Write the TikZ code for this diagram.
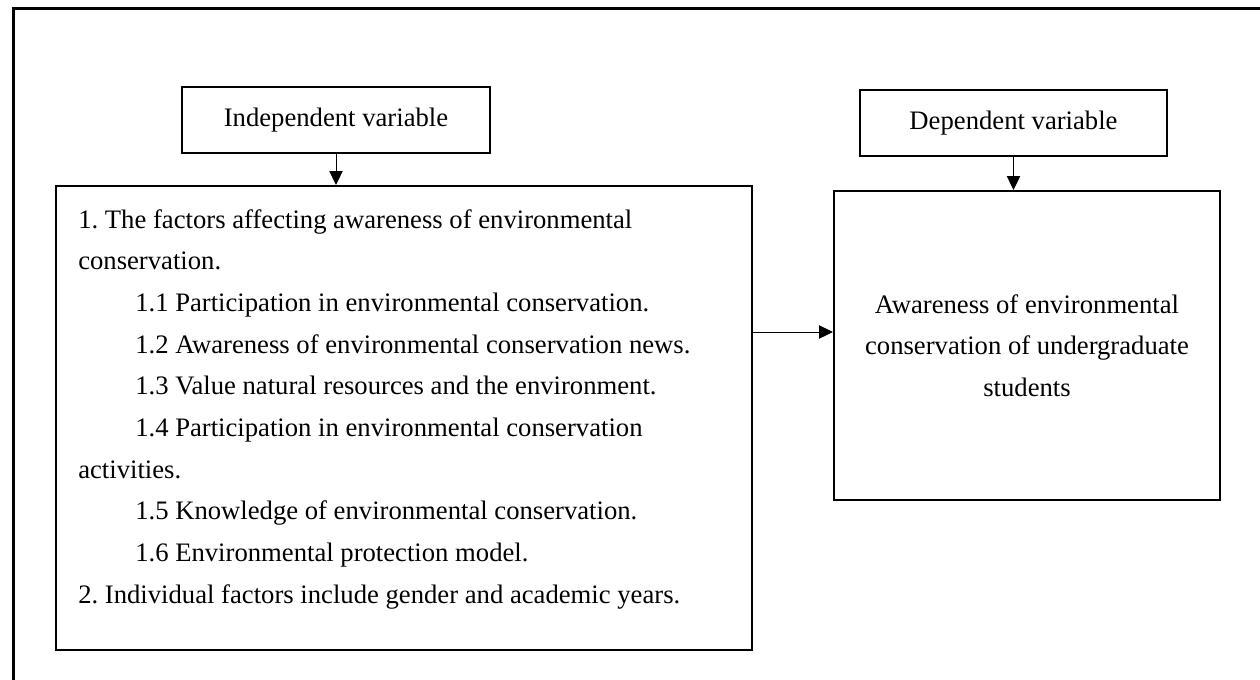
\documentclass[tikz,border=0pt]{standalone}
\usepackage{fontspec}
\setmainfont{Liberation Serif}
\usetikzlibrary{arrows.meta}
\frenchspacing

\begin{document}
\begin{tikzpicture}[
  varbox/.style={draw,line width=1.5pt,inner sep=0pt,align=center},
  item/.style={inner sep=0pt,anchor=base west},
  link/.style={-{Triangle[length=10.5pt,width=10pt]},line width=0.75pt},
  font=\fontsize{20}{31.3}\selectfont,
  x=0.75pt,y=-0.75pt]

  \useasboundingbox (0,0) rectangle (1260,679);

  % ------------------- frame ----------------------
  \draw[line width=2.6pt] (13.5,690) -- (13.5,8.5) -- (1270,8.5);

  % ------------------- boxes ----------------------
  \node[varbox,minimum width=231pt,minimum height=49.5pt] (indep) at (336,120) {Independent variable};
  \node[varbox,minimum width=230.25pt,minimum height=49.5pt] (dep) at (1013.5,123) {Dependent variable};
  \node[varbox,minimum width=522pt,minimum height=348pt] (factors) at (404,418) {};
  \node[varbox,minimum width=289.5pt,minimum height=231.75pt] (awareness) at (1027,345.5)
    {Awareness of environmental\\conservation of undergraduate\\students};

  % ------------------- list ----------------------
  \foreach \ind/\txt [count=\i from 0] in {
    0/1. The factors affecting awareness of environmental,
    0/conservation.,
    1/1.1 Participation in environmental conservation.,
    1/1.2 Awareness of environmental conservation news.,
    1/1.3 Value natural resources and the environment.,
    1/1.4 Participation in environmental conservation,
    0/activities.,
    1/1.5 Knowledge of environmental conservation.,
    1/1.6 Environmental protection model.,
    0/2. Individual factors include gender and academic years.} {
    \node[item] (line\i) at (78+\ind*57,228+\i*41.7) {\txt};
  }

  % ------------------- arrows ----------------------
  \draw[link] (indep.south) -- (indep.south |- factors.north);
  \draw[link] (dep.south) -- (dep.south |- awareness.north);
  \coordinate (tap) at (752,332);
  \draw[link] (tap) -- (tap -| awareness.west);
\end{tikzpicture}
\end{document}
